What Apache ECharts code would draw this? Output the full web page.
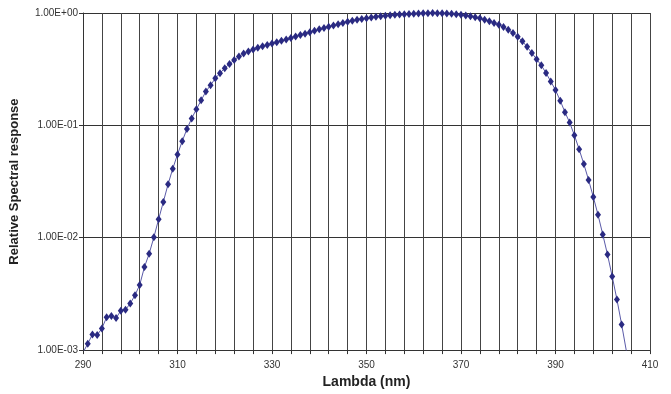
<!DOCTYPE html>
<html>
<head>
<meta charset="utf-8">
<script src="https://cdn.jsdelivr.net/npm/echarts@6/dist/echarts.min.js"></script>
<style>
  html, body { margin: 0; padding: 0; background: #fff; }
  #chart { width: 671px; height: 394px; }
</style>
</head>
<body>
<div id="chart"></div>
<script>
// wavelength (nm)
const lambdaNm = [
  290, 291, 292, 293, 294, 295, 296, 297, 298, 299,
  300, 301, 302, 303, 304, 305, 306, 307, 308, 309,
  310, 311, 312, 313, 314, 315, 316, 317, 318, 319,
  320, 321, 322, 323, 324, 325, 326, 327, 328, 329,
  330, 331, 332, 333, 334, 335, 336, 337, 338, 339,
  340, 341, 342, 343, 344, 345, 346, 347, 348, 349,
  350, 351, 352, 353, 354, 355, 356, 357, 358, 359,
  360, 361, 362, 363, 364, 365, 366, 367, 368, 369,
  370, 371, 372, 373, 374, 375, 376, 377, 378, 379,
  380, 381, 382, 383, 384, 385, 386, 387, 388, 389,
  390, 391, 392, 393, 394, 395, 396, 397, 398, 399,
  400, 401, 402, 403, 404, 405
];
// relative spectral response
const response = [
  0.00095, 0.00114, 0.00138, 0.00136, 0.00156, 0.00196, 0.00201, 0.00193, 0.00224, 0.00229,
  0.0026, 0.00308, 0.0038, 0.00548, 0.0072, 0.0101, 0.0146, 0.0208, 0.0299, 0.0412,
  0.0551, 0.0723, 0.0929, 0.1154, 0.139, 0.167, 0.2, 0.228, 0.262, 0.291,
  0.323, 0.352, 0.382, 0.41, 0.435, 0.455, 0.473, 0.49, 0.505, 0.52,
  0.535, 0.55, 0.566, 0.582, 0.6, 0.618, 0.636, 0.655, 0.675, 0.695,
  0.715, 0.735, 0.755, 0.775, 0.795, 0.815, 0.835, 0.853, 0.87, 0.886,
  0.9, 0.913, 0.925, 0.936, 0.946, 0.955, 0.963, 0.97, 0.976, 0.981,
  0.986, 0.99, 0.993, 0.996, 0.998, 0.997, 0.994, 0.99, 0.983, 0.974,
  0.963, 0.95, 0.934, 0.916, 0.896, 0.873, 0.845, 0.815, 0.785, 0.75,
  0.71, 0.665, 0.615, 0.56, 0.5, 0.44, 0.388, 0.342, 0.292, 0.246,
  0.206, 0.166, 0.131, 0.106, 0.0815, 0.0613, 0.0452, 0.0327, 0.0231, 0.016,
  0.0107, 0.0071, 0.00453, 0.00282, 0.00169, 0.00098
];
const xLabels = [290, 310, 330, 350, 370, 390, 410];

const fmtExp = v => {
  const e = Math.round(Math.log10(v));
  const s = e < 0 ? '-' : '+';
  return '1.00E' + s + String(Math.abs(e)).padStart(2, '0');
};

const chart = echarts.init(document.getElementById('chart'));
chart.setOption({
  animation: false,
  backgroundColor: '#fff',
  grid: { left: 83, right: 21, top: 13, bottom: 41 },
  xAxis: {
    type: 'value',
    min: 290,
    max: 410,
    interval: 4,
    name: 'Lambda (nm)',
    nameLocation: 'middle',
    nameGap: 23,
    nameTextStyle: { fontFamily: 'Liberation Sans', fontWeight: 'bold', fontSize: 14, color: '#222' },
    axisLine: { show: true, lineStyle: { color: '#333', width: 1 } },
    axisTick: { show: true, length: 4, lineStyle: { color: '#333' } },
    axisLabel: {
      fontFamily: 'Liberation Sans', fontSize: 10, color: '#333', margin: 10,
      formatter: v => xLabels.includes(v) ? String(v) : ''
    },
    splitLine: { show: true, lineStyle: { color: '#444', width: 1 } }
  },
  yAxis: {
    type: 'log',
    logBase: 10,
    min: 0.001,
    max: 1,
    name: 'Relative Spectral response',
    nameLocation: 'middle',
    nameGap: 62,
    nameTextStyle: { fontFamily: 'Liberation Sans', fontWeight: 'bold', fontSize: 13, color: '#222' },
    axisLine: { show: true, lineStyle: { color: '#333', width: 1 } },
    axisTick: { show: true, length: 4, lineStyle: { color: '#333' } },
    axisLabel: { fontFamily: 'Liberation Sans', fontSize: 10, color: '#333', margin: 5, formatter: fmtExp },
    splitLine: { show: true, lineStyle: { color: '#333', width: 1 } }
  },
  series: [{
    type: 'line',
    data: lambdaNm.map((x, i) => [x, response[i]]),
    symbol: 'diamond',
    symbolSize: [6, 8],
    itemStyle: { color: '#2a2a82' },
    lineStyle: { color: '#5a5aa8', width: 1 },
    clip: true
  }]
});
</script>
</body>
</html>
